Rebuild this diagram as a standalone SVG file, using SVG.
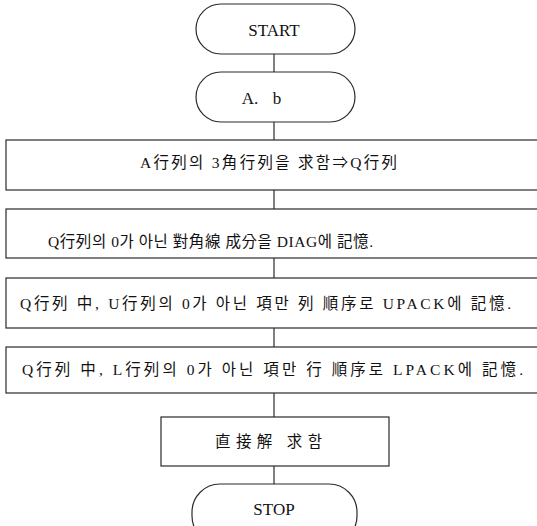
<svg xmlns="http://www.w3.org/2000/svg" width="537" height="526" viewBox="0 0 537 526">
<style>
.shape{fill:#fff;stroke:#2a2a2a;stroke-width:1.2}
.con{stroke:#2a2a2a;stroke-width:1.2;fill:none}
.lat{font-family:"Liberation Serif","Noto Serif",serif;font-size:17px;fill:#111;text-anchor:middle;dominant-baseline:central}
.kr{font-family:"Liberation Serif","Noto Sans CJK KR",serif;font-size:15.5px;fill:#111;dominant-baseline:central}
</style>
<rect width="537" height="526" fill="#fff"/>
<g id="connectors">
<line class="con" x1="274" y1="54" x2="274" y2="72"/>
<line class="con" x1="274" y1="122" x2="274" y2="140"/>
<line class="con" x1="274" y1="190" x2="274" y2="209"/>
<line class="con" x1="274" y1="258" x2="274" y2="278"/>
<line class="con" x1="274" y1="328" x2="274" y2="347"/>
<line class="con" x1="274" y1="393" x2="274" y2="417"/>
<line class="con" x1="274" y1="466" x2="274" y2="484"/>
</g>
<g id="start">
<rect class="shape" x="196" y="4" width="159" height="50" rx="25"/>
<text class="lat" x="274" y="30">START</text>
</g>
<g id="input">
<rect class="shape" x="196" y="72" width="159" height="50" rx="25"/>
<text class="lat" x="250" y="98">A.</text>
<text class="lat" x="277" y="98">b</text>
</g>
<g id="step1">
<rect class="shape" x="6" y="140" width="540" height="50"/>
<text class="kr" x="140" y="162" textLength="257" lengthAdjust="spacing">A行列의  3角行列을  求함⇒Q行列</text>
</g>
<g id="step2">
<rect class="shape" x="6" y="209" width="540" height="49"/>
<text class="kr" x="48" y="241" textLength="325" lengthAdjust="spacing">Q行列의  0가  아닌  對角線  成分을  DIAG에  記憶.</text>
</g>
<g id="step3">
<rect class="shape" x="6" y="278" width="540" height="50"/>
<text class="kr" x="20" y="303" textLength="491" lengthAdjust="spacing">Q行列  中,  U行列의  0가  아닌  項만  列  順序로  UPACK에  記憶.</text>
</g>
<g id="step4">
<rect class="shape" x="6" y="347" width="540" height="46"/>
<text class="kr" x="22" y="369" textLength="501" lengthAdjust="spacing">Q行列  中,  L行列의  0가  아닌  項만  行  順序로  LPACK에  記憶.</text>
</g>
<g id="step5">
<rect class="shape" x="161" y="417" width="228" height="49"/>
<text class="kr" x="215" y="441" textLength="107" lengthAdjust="spacing">直接解  求함</text>
</g>
<g id="stop">
<rect class="shape" x="192" y="484" width="165" height="60" rx="28"/>
<text class="lat" x="274" y="509">STOP</text>
</g>
</svg>
